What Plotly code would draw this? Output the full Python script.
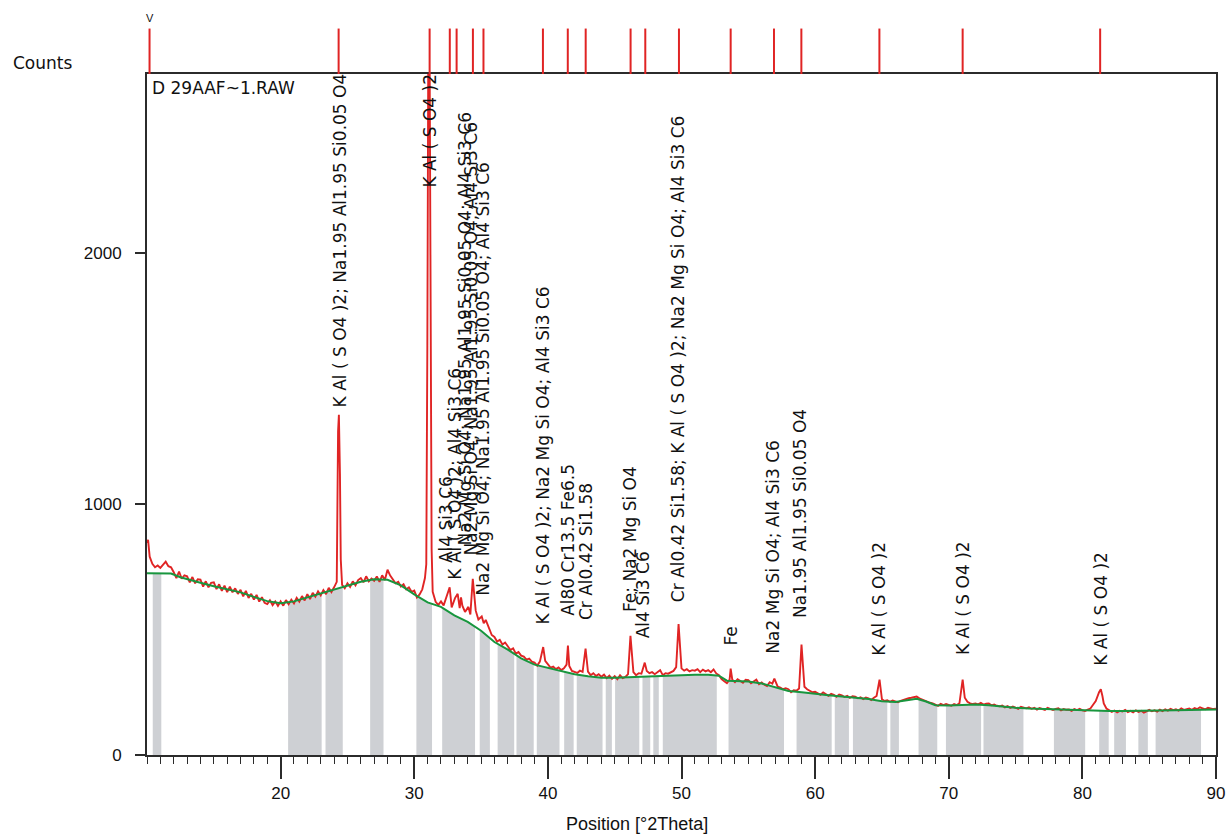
import numpy as np
import plotly.graph_objects as go

# ---------------- data ----------------
obs_start = 10.0
obs_step = 0.2
obs_counts = [
    845, 790, 762, 748, 755,
    745, 758, 770, 752, 748,
    728, 705, 731, 702, 716,
    712, 688, 709, 684, 700,
    699, 671, 692, 668, 686,
    688, 661, 680, 654, 675,
    649, 671, 648, 664, 642,
    658, 632, 654, 626, 642,
    619, 638, 611, 629, 606,
    601, 616, 597, 612, 594,
    612, 595, 617, 601, 619,
    604, 626, 611, 633, 616,
    641, 621, 646, 631, 652,
    636, 657, 641, 666, 649,
    668, 690, 664, 678, 664,
    684, 670, 692, 676, 697,
    705, 688, 712, 692, 703,
    694, 711, 690, 716, 697,
    738, 715, 700, 684, 690,
    671, 680, 660, 668, 650,
    655, 628, 640, 660, 705,
    640, 640, 640, 610, 598,
    612, 596, 625, 640, 588,
    590, 600, 585, 595, 570,
    560, 560, 600, 575, 540,
    530, 525, 520, 500, 478,
    470, 452, 459, 440, 448,
    432, 418, 425, 404, 410,
    396, 392, 380, 384, 372,
    368, 356, 372, 398, 375,
    360, 348, 352, 342, 349,
    338, 345, 360, 355, 335,
    330, 327, 336, 331, 345,
    332, 318, 326, 315, 322,
    312, 320, 306, 316, 303,
    314, 302, 318, 306, 311,
    322, 340, 330, 318, 326,
    324, 345, 335, 326, 330,
    322, 330, 338, 318, 326,
    324, 330, 335, 350, 400,
    345, 336, 342, 333, 338,
    336, 342, 330, 340, 333,
    338, 330, 341, 325, 318,
    302, 294, 286, 300, 300,
    290, 302, 296, 288, 300,
    298, 286, 293, 300, 282,
    289, 280, 275, 290, 284,
    290, 272, 268, 262, 266,
    262, 250, 258, 256, 265,
    300, 272, 262, 256, 250,
    252, 245, 240, 249, 244,
    236, 244, 240, 232, 241,
    238, 231, 236, 228, 234,
    232, 226, 230, 223, 229,
    226, 219, 228, 235, 260,
    222, 215, 218, 212, 217,
    214, 210, 216, 220, 224,
    226, 228, 231, 233, 226,
    221, 216, 213, 208, 206,
    202, 196, 204, 199, 203,
    201, 196, 203, 199, 206,
    250, 228, 212, 206, 203,
    205, 202, 208, 201, 204,
    205, 198, 201, 196, 194,
    197, 190, 195, 188, 193,
    190, 184, 192, 188, 186,
    190, 184, 188, 181, 187,
    185, 180, 188, 183, 179,
    184, 186, 178, 183, 180,
    181, 176, 183, 179, 184,
    178, 175, 181, 185, 200,
    215, 240, 250, 205, 185,
    178, 172, 177, 170, 176,
    173, 180, 171, 176, 170,
    178, 172, 176, 169, 174,
    180, 174, 178, 173, 181,
    175, 182, 177, 184, 179,
    182, 177, 186, 180, 184,
    185, 180, 187, 183, 190,
    186, 182, 188, 184, 183,
    184,
]

peak_pos = [10.08,
            24.30, 24.36, 24.44, 24.50,
            30.90, 30.98, 31.05, 31.15, 31.22, 31.30, 31.38,
            32.65, 33.05, 33.25, 33.50, 34.05, 34.38, 35.05, 35.35,
            39.65, 41.50, 42.82, 46.18, 47.25, 49.78, 53.68, 56.95,
            58.98, 59.08, 64.82, 71.04, 81.25, 81.38, 81.50]
peak_counts = [857,
               1290, 1355, 1120, 780,
               760, 1630, 2800, 2800, 1900, 820, 650,
               668, 625, 642, 628, 590, 702, 552, 538,
               430, 436, 424, 475, 368, 522, 344, 304,
               440, 360, 300, 300, 250, 262, 235]

bg_pos = [10, 11, 11.8, 12.5, 13, 14, 15, 16, 17, 18, 19, 20, 21, 22, 23, 24, 25, 26, 27, 28,
          29, 30, 31, 32, 33, 34, 35, 36, 37, 38, 39, 40, 41, 42, 43, 44, 45, 46, 47, 48,
          49, 50, 51, 52, 52.8, 53.4, 54, 55, 56, 57, 58, 59, 60, 61, 62, 63, 64, 65, 66, 67,
          67.6, 68.3, 69, 70, 71, 72, 73, 74, 75, 76, 77, 78, 79, 80, 81, 82, 83, 84, 85, 86,
          87, 88, 89, 90]
bg_counts = [724, 724, 723, 708, 700, 686, 672, 660, 648, 630, 613, 605, 612, 628, 643, 658, 673, 690, 700, 698,
             676, 640, 608, 590, 556, 530, 495, 450, 420, 385, 360, 347, 335, 322, 314, 308, 308, 310, 312, 315,
             318, 320, 320, 320, 316, 296, 295, 293, 285, 270, 255, 250, 243, 238, 233, 228, 223, 214, 211, 219,
             224, 213, 198, 197, 198, 201, 198, 192, 188, 185, 183, 181, 179, 177, 176, 175, 175, 175, 176, 177,
             178, 179, 180, 181]

gray_start = [10.43, 20.56, 23.36, 26.70, 30.16, 32.09, 34.90, 36.24, 37.65, 39.17, 41.22, 42.16, 44.33,
              45.03, 47.08, 47.89, 48.60, 53.52, 58.61, 61.47, 62.83, 65.63, 67.74, 69.79, 72.60, 77.87,
              81.26, 82.38, 84.19, 85.48]
gray_end = [11.07, 23.07, 24.65, 27.70, 31.33, 34.55, 35.66, 37.48, 38.94, 40.87, 41.93, 44.09, 44.79,
            46.84, 47.66, 48.30, 52.64, 57.67, 61.24, 62.53, 65.40, 66.27, 69.14, 72.42, 75.59, 80.21,
            81.97, 83.26, 84.90, 88.88]

stick_pos = [10.19, 24.34, 31.15, 32.66, 33.17, 34.39, 35.18, 39.63, 41.49, 42.83, 46.19, 47.29,
             49.81, 53.68, 56.92, 58.97, 64.81, 71.04, 81.33]

label_pos = [24.41, 31.15, 32.42, 33.02, 33.77, 34.22, 35.19, 39.60, 41.50, 42.90, 46.15, 47.10,
             49.80, 53.70, 56.85, 58.90, 64.82, 71.06, 81.38]
label_base = [1375, 2251, 757, 689, 825, 785, 625, 510, 546, 530, 562, 458,
              602, 430, 394, 538, 386, 390, 347]
label_text = [
    "K Al ( S O4 )2; Na1.95 Al1.95 Si0.05 O4",
    "K Al ( S O4 )2",
    "Al4 Si3 C6",
    "K Al ( S O4 )2; Al4 Si3 C6",
    "Na2 Mg Si O4; Na1.95 Al1.95 Si0.05 O4; Al4 Si3 C6",
    "Na2 Mg Si O4; Na1.95 Al1.95 Si0.05 O4; Al4 Si3 C6",
    "Na2 Mg Si O4; Na1.95 Al1.95 Si0.05 O4; Al4 Si3 C6",
    "K Al ( S O4 )2; Na2 Mg Si O4; Al4 Si3 C6",
    "Al80 Cr13.5 Fe6.5",
    "Cr Al0.42 Si1.58",
    "Fe; Na2 Mg Si O4",
    "Al4 Si3 C6",
    "Cr Al0.42 Si1.58; K Al ( S O4 )2; Na2 Mg Si O4; Al4 Si3 C6",
    "Fe",
    "Na2 Mg Si O4; Al4 Si3 C6",
    "Na1.95 Al1.95 Si0.05 O4",
    "K Al ( S O4 )2",
    "K Al ( S O4 )2",
    "K Al ( S O4 )2",
]

x_ticks = [20, 30, 40, 50, 60, 70, 80, 90]
y_ticks = [0, 1000, 2000]
x_range = [10, 90]
y_range = [0, 2713]

# ---------------- build ----------------
RED = "rgb(224,36,36)"
GREEN = "rgb(24,150,62)"
GRAY = "rgb(206,208,212)"
AX = "#2b2b2b"

grid_x = obs_start + obs_step * np.arange(len(obs_counts))
keep = [all(abs(g - p) > 0.07 for p in peak_pos) for g in grid_x]
obs_x = [float(g) for g, k in zip(grid_x, keep) if k] + list(peak_pos)
obs_y = [c for c, k in zip(obs_counts, keep) if k] + list(peak_counts)
order = np.argsort(obs_x)
obs_x = [obs_x[i] for i in order]
obs_y = [obs_y[i] for i in order]

fig = go.Figure()

for a, b in zip(gray_start, gray_end):
    xs = [a] + [p for p in bg_pos if a < p < b] + [b]
    ys = list(np.interp(xs, bg_pos, bg_counts))
    fig.add_trace(go.Scatter(x=[a] + xs + [b], y=[0] + ys + [0], mode="lines",
                             fill="toself", fillcolor=GRAY, line=dict(width=0),
                             hoverinfo="skip", showlegend=False))

fig.add_trace(go.Scatter(x=obs_x, y=obs_y, mode="lines",
                         line=dict(color=RED, width=1.9), showlegend=False))
fig.add_trace(go.Scatter(x=bg_pos, y=bg_counts, mode="lines",
                         line=dict(color=GREEN, width=2), showlegend=False))

sx, sy = [], []
for p in stick_pos:
    sx += [p, p, None]
    sy += [0, 1, None]
fig.add_trace(go.Scatter(x=sx, y=sy, mode="lines", xaxis="x2", yaxis="y2",
                         line=dict(color=RED, width=2), showlegend=False))

W, H = 1226, 834
mt, mb, ml, mr = 24, 79, 147, 10
ph = H - mt - mb
main_top = 681 / ph

ann = []
for xp, yb, t in zip(label_pos, label_base, label_text):
    ann.append(dict(x=xp, y=yb, xref="x", yref="y", text=t, textangle=-90,
                    showarrow=False, xanchor="center", yanchor="bottom",
                    font=dict(family="DejaVu Sans", size=17, color="#111")))

def px(xpix):
    return (xpix - ml) / (W - ml - mr)

def py(ypix):
    return (H - mb - ypix) / ph

ann.append(dict(x=px(42), y=py(63), xref="paper", yref="paper", text="Counts",
                showarrow=False, xanchor="center", yanchor="middle",
                font=dict(family="DejaVu Sans", size=17, color="#111")))
ann.append(dict(x=px(150), y=py(88), xref="paper", yref="paper", text="D 29AAF~1.RAW",
                showarrow=False, xanchor="left", yanchor="middle",
                font=dict(family="DejaVu Sans", size=17, color="#111")))
ann.append(dict(x=px(637), y=py(824), xref="paper", yref="paper", text="Position [°2Theta]",
                showarrow=False, xanchor="center", yanchor="middle",
                font=dict(family="Liberation Sans", size=18, color="#111")))
ann.append(dict(x=stick_pos[0], y=py(18), xref="x", yref="paper", text="V",
                showarrow=False, xanchor="center", yanchor="middle",
                font=dict(family="Liberation Sans", size=11, color="#111")))

fig.update_layout(
    width=W, height=H,
    margin=dict(l=ml, r=mr, t=mt, b=mb),
    paper_bgcolor="white", plot_bgcolor="white",
    showlegend=False,
    annotations=ann,
    xaxis=dict(range=x_range, domain=[0, 1], anchor="y", automargin=False,
               showline=True, linecolor=AX, linewidth=2, mirror=True,
               showgrid=False, zeroline=False,
               tickmode="array", tickvals=x_ticks, ticks="outside",
               ticklen=22, tickwidth=1.5, tickcolor=AX,
               minor=dict(dtick=1, ticks="outside", ticklen=7, tickwidth=1, tickcolor=AX),
               tickfont=dict(family="Liberation Sans", size=17, color="#111")),
    yaxis=dict(range=y_range, domain=[0, main_top], anchor="x", automargin=False,
               showline=True, linecolor=AX, linewidth=2, mirror=True,
               showgrid=False, zeroline=False,
               tickmode="array", tickvals=y_ticks, ticks="outside",
               ticklen=10, tickwidth=1.5, tickcolor=AX, ticklabelstandoff=10,
               tickfont=dict(family="Liberation Sans", size=17, color="#111")),
    xaxis2=dict(matches="x", anchor="y2", domain=[0, 1], visible=False),
    yaxis2=dict(range=[0, 1.1], domain=[main_top, 1], anchor="x2", visible=False),
)

fig.write_html("out.html", config={"displayModeBar": False},
               post_script="document.body.style.margin='0';document.body.style.overflow='hidden';")
